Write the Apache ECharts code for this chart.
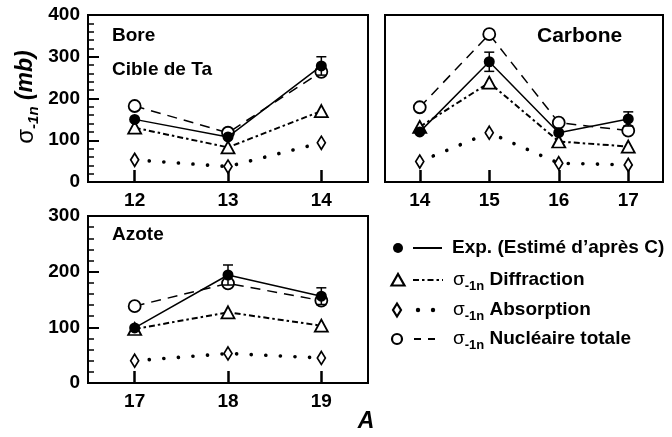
<!DOCTYPE html>
<html><head><meta charset="utf-8">
<script src="https://cdn.jsdelivr.net/npm/echarts@6/dist/echarts.min.js"></script>
<style>html,body{margin:0;padding:0;background:#fff}#c{width:672px;height:437px}</style>
</head><body><div id="c"></div>
<script>
// ---- data ----
const boreA = ['12', '13', '14'];
const boreExp = [150, 108, 278];
const boreExpErr = [0, 0, 22];
const boreDiff = [130, 83, 170];
const boreAbs = [53, 37, 94];
const boreTot = [182, 118, 264];

const carbA = ['14', '15', '16', '17'];
const carbExp = [120, 288, 118, 151];
const carbExpErr = [0, 23, 0, 17];
const carbDiff = [132, 238, 97, 85];
const carbAbs = [49, 118, 45, 41];
const carbTot = [179, 354, 142, 123];

const azA = ['17', '18', '19'];
const azExp = [99, 194, 156];
const azExpErr = [0, 18, 15];
const azDiff = [97, 127, 103];
const azAbs = [40, 53, 45];
const azTot = [138, 179, 148];

const yTicksTop = [0, 400, 100];
const yTicksBottom = [0, 300, 100];

// ---- chart ----
const FONT = '"Liberation Sans", Arial, Helvetica, sans-serif';
const chart = echarts.init(document.getElementById('c'), null, {renderer: 'canvas'});

function errRender(params, api) {
  const x = api.value(0), v = api.value(1), e = api.value(2);
  if (!e) return null;
  const top = api.coord([x, v + e]), bot = api.coord([x, v - e]);
  const hw = 5;
  const st = {stroke: '#000', lineWidth: 1.5};
  return {type: 'group', children: [
    {type: 'line', shape: {x1: top[0], y1: top[1], x2: bot[0], y2: bot[1]}, style: st},
    {type: 'line', shape: {x1: top[0] - hw, y1: top[1], x2: top[0] + hw, y2: top[1]}, style: st},
    {type: 'line', shape: {x1: bot[0] - hw, y1: bot[1], x2: bot[0] + hw, y2: bot[1]}, style: st}
  ]};
}

function panelSeries(idx, exp, err, diff, abs, tot) {
  const openItem = {color: '#fff', borderColor: '#000', borderWidth: 1.8};
  return [
    {type: 'line', xAxisIndex: idx, yAxisIndex: idx, data: abs, symbol: 'diamond', symbolSize: [8, 13],
      itemStyle: openItem, lineStyle: {color: '#000', width: 3.6, type: [0.1, 14.5], cap: 'round'}, z: 2, animation: false},
    {type: 'line', xAxisIndex: idx, yAxisIndex: idx, data: diff, symbol: 'triangle', symbolSize: [13, 12],
      itemStyle: openItem, lineStyle: {color: '#000', width: 2, type: [6, 3, 2.5, 3]}, z: 3, animation: false},
    {type: 'line', xAxisIndex: idx, yAxisIndex: idx, data: tot, symbol: 'circle', symbolSize: 12,
      itemStyle: openItem, lineStyle: {color: '#000', width: 1.5, type: [10, 7]}, z: 4, animation: false},
    {type: 'line', xAxisIndex: idx, yAxisIndex: idx, data: exp, symbol: 'circle', symbolSize: 11,
      itemStyle: {color: '#000'}, lineStyle: {color: '#000', width: 1.5, type: 'solid'}, z: 6, animation: false},
    {type: 'custom', xAxisIndex: idx, yAxisIndex: idx, renderItem: errRender, z: 5, animation: false,
      data: exp.map((v, i) => [i, v, err[i]])}
  ];
}

function xAx(idx, cats) {
  return {type: 'category', gridIndex: idx, data: cats, boundaryGap: true,
    axisLine: {show: true, lineStyle: {color: '#000', width: 2}},
    axisTick: {show: true, inside: true, alignWithLabel: true, length: 12, lineStyle: {color: '#000', width: 2.5}},
    axisLabel: {show: true, color: '#000', fontFamily: FONT, fontWeight: 'bold', fontSize: 19, margin: 9},
    splitLine: {show: false}};
}
function yAx(idx, t, labels) {
  return {type: 'value', gridIndex: idx, min: t[0], max: t[1], interval: t[2],
    axisLine: {show: true, lineStyle: {color: '#000', width: 2}},
    axisTick: {show: labels, inside: true, length: 11, lineStyle: {color: '#000', width: 2}},
    minorTick: {show: labels, splitNumber: 5, length: 6, lineStyle: {color: '#000', width: 1.5}},
    minorSplitLine: {show: false},
    axisLabel: {show: labels, color: '#000', fontFamily: FONT, fontWeight: 'bold', fontSize: 19, margin: 8},
    splitLine: {show: false}};
}

const gridStyle = {show: true, borderColor: '#000', borderWidth: 2};

const legendRows = [248, 280, 310, 339];
const txt = (x, y, text, font, extra) => ({type: 'text', x: x, y: y, z: 20,
  style: Object.assign({text: text, font: font, fill: '#000', verticalAlign: 'middle', align: 'left'}, extra || {})});
const sigmaRich = {
  s: {fontFamily: FONT, fontSize: 19, fontWeight: 'normal', lineHeight: 26, verticalAlign: 'middle'},
  sub: {fontFamily: FONT, fontSize: 13, fontWeight: 'bold', lineHeight: 26, verticalAlign: 'bottom'},
  b: {fontFamily: FONT, fontSize: 19, fontWeight: 'bold', lineHeight: 26, verticalAlign: 'middle'}
};

const graphics = [
  txt(112, 36, 'Bore', 'bold 19px ' + FONT),
  txt(112, 70, 'Cible de Ta', 'bold 19px ' + FONT),
  txt(537, 36, 'Carbone', 'bold 21px ' + FONT, {}),
  txt(112, 235, 'Azote', 'bold 19px ' + FONT),
  {type: 'text', x: 26, y: 97, rotation: Math.PI / 2, z: 20,
    style: {text: '{s|σ}{sub|-1n}{b| (mb)}', align: 'center', verticalAlign: 'middle', fill: '#000',
      rich: {
        s: {fontFamily: FONT, fontSize: 24, fontWeight: 'normal', lineHeight: 30, verticalAlign: 'middle'},
        sub: {fontFamily: FONT, fontSize: 15, fontWeight: 'bold', fontStyle: 'italic', lineHeight: 30, verticalAlign: 'bottom'},
        b: {fontFamily: FONT, fontSize: 23, fontWeight: 'bold', fontStyle: 'italic', lineHeight: 30, verticalAlign: 'middle'}
      }}},
  {type: 'text', x: 366, y: 422, z: 20,
    style: {text: 'A', font: 'italic bold 23px ' + FONT, fill: '#000', align: 'center', verticalAlign: 'middle'}},
  {type: 'circle', shape: {cx: 398, cy: legendRows[0], r: 5}, style: {fill: '#000'}, z: 20},
  {type: 'line', shape: {x1: 413, y1: legendRows[0], x2: 442, y2: legendRows[0]}, style: {stroke: '#000', lineWidth: 2}, z: 20},
  txt(452, legendRows[0], 'Exp. (Estimé d’après C)', 'bold 19px ' + FONT),
  {type: 'polygon', shape: {points: [[391.5, legendRows[1] + 5.5], [404.5, legendRows[1] + 5.5], [398, legendRows[1] - 6]]},
    style: {fill: '#fff', stroke: '#000', lineWidth: 2.2}, z: 20},
  {type: 'line', shape: {x1: 413, y1: legendRows[1], x2: 443, y2: legendRows[1]}, style: {stroke: '#000', lineWidth: 2, lineDash: [6, 3, 2.5, 3]}, z: 20},
  {type: 'text', x: 453, y: legendRows[1], z: 20, style: {text: '{s|σ}{sub|-1n}{b| Diffraction}', fill: '#000', verticalAlign: 'middle', rich: sigmaRich}},
  {type: 'polygon', shape: {points: [[397, legendRows[2] - 6.5], [401, legendRows[2]], [397, legendRows[2] + 6.5], [393, legendRows[2]]]},
    style: {fill: '#fff', stroke: '#000', lineWidth: 2.2}, z: 20},
  {type: 'circle', shape: {cx: 418, cy: legendRows[2], r: 2.2}, style: {fill: '#000'}, z: 20},
  {type: 'circle', shape: {cx: 433, cy: legendRows[2], r: 2.2}, style: {fill: '#000'}, z: 20},
  {type: 'text', x: 453, y: legendRows[2], z: 20, style: {text: '{s|σ}{sub|-1n}{b| Absorption}', fill: '#000', verticalAlign: 'middle', rich: sigmaRich}},
  {type: 'circle', shape: {cx: 397, cy: legendRows[3], r: 5}, style: {fill: '#fff', stroke: '#000', lineWidth: 2.2}, z: 20},
  {type: 'line', shape: {x1: 414, y1: legendRows[3], x2: 421, y2: legendRows[3]}, style: {stroke: '#000', lineWidth: 2}, z: 20},
  {type: 'line', shape: {x1: 428, y1: legendRows[3], x2: 435, y2: legendRows[3]}, style: {stroke: '#000', lineWidth: 2}, z: 20},
  {type: 'text', x: 453, y: legendRows[3], z: 20, style: {text: '{s|σ}{sub|-1n}{b| Nucléaire totale}', fill: '#000', verticalAlign: 'middle', rich: sigmaRich}}
];

chart.setOption({
  animation: false,
  backgroundColor: '#fff',
  grid: [
    Object.assign({left: 88, top: 15, width: 280, height: 167}, gridStyle),
    Object.assign({left: 385, top: 15, width: 278, height: 167}, gridStyle),
    Object.assign({left: 88, top: 216, width: 280, height: 167}, gridStyle)
  ],
  xAxis: [xAx(0, boreA), xAx(1, carbA), xAx(2, azA)],
  yAxis: [yAx(0, yTicksTop, true), yAx(1, yTicksTop, false), yAx(2, yTicksBottom, true)],
  series: [].concat(
    panelSeries(0, boreExp, boreExpErr, boreDiff, boreAbs, boreTot),
    panelSeries(1, carbExp, carbExpErr, carbDiff, carbAbs, carbTot),
    panelSeries(2, azExp, azExpErr, azDiff, azAbs, azTot)
  ),
  graphic: graphics
});
</script>
</body></html>
